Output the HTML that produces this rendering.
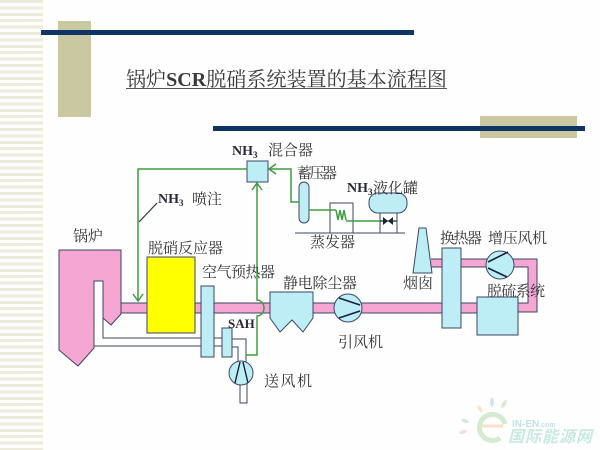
<!DOCTYPE html>
<html><head><meta charset="utf-8">
<style>
html,body{margin:0;padding:0;background:#fefefe;}
#wrap{position:relative;width:600px;height:450px;overflow:hidden;background:#fefefe;}
#stripes{position:absolute;left:0;top:0;width:43px;height:450px;
background:repeating-linear-gradient(to bottom,#ecebdc 0px,#ecebdc 3px,#fdfdfb 3px,#fdfdfb 6.4px);}
svg{position:absolute;left:0;top:0;}
.lbl{font-family:"Liberation Serif","Noto Serif CJK SC",serif;font-size:15px;fill:#333;}
.nh{font-family:"Liberation Serif","Noto Serif CJK SC",serif;font-weight:bold;fill:#2a2a3a;}
</style></head>
<body><div id="wrap">
<div id="stripes"></div>
<svg width="600" height="450" viewBox="0 0 600 450" xmlns="http://www.w3.org/2000/svg">
<!-- decorative bars -->
<rect x="58" y="21" width="33" height="96" fill="#c9c8a0"/>
<rect x="41" y="30" width="373" height="5" fill="#0e3566"/>
<rect x="480" y="116" width="97" height="22" fill="#c9c8a0"/>
<rect x="213" y="126" width="372" height="5" fill="#0e3566"/>

<!-- title -->
<text x="126" y="86" font-family="'Liberation Serif','Noto Serif CJK SC',serif" font-size="20" fill="#3a3a3a" textLength="321" lengthAdjust="spacingAndGlyphs">锅炉<tspan font-weight="bold">SCR</tspan>脱硝系统装置的基本流程图</text>
<line x1="126" y1="88.5" x2="447" y2="88.5" stroke="#555" stroke-width="1"/>

<!-- main pink duct -->
<rect x="121" y="303" width="356" height="10" fill="#f5a6d3"/>
<line x1="121" y1="303" x2="477" y2="303" stroke="#3b4766" stroke-width="1"/>
<line x1="121" y1="313" x2="477" y2="313" stroke="#3b4766" stroke-width="1"/>
<!-- upper U duct -->
<path d="M431,259 L537,259 L537,312 L518,312 L518,303 L528,303 L528,267 L431,267 Z" fill="#f5a6d3"/>
<path d="M431,259 L537,259 L537,312 L518,312" fill="none" stroke="#3b4766" stroke-width="1"/>
<path d="M431,267 L528,267 L528,303 L518,303" fill="none" stroke="#3b4766" stroke-width="1"/>

<!-- boiler -->
<path d="M59,250 L121,250 L121,314 L111,325 L103,318 L103,281 L94,281 L94,348 L78,366 L59,350 Z" fill="#f5a6d3" stroke="#3b4766" stroke-width="1"/>
<!-- air ducts -->
<path d="M103,318 L103,338 L201,338" fill="none" stroke="#3b4766" stroke-width="1"/>
<path d="M94,346 L201,346" fill="none" stroke="#3b4766" stroke-width="1"/>
<line x1="214" y1="338" x2="222" y2="338" stroke="#3b4766" stroke-width="1"/>
<line x1="214" y1="346" x2="222" y2="346" stroke="#3b4766" stroke-width="1"/>
<path d="M232,339 L246,339 L246,363" fill="none" stroke="#3b4766" stroke-width="1"/>
<path d="M232,347 L238,347 L238,363" fill="none" stroke="#3b4766" stroke-width="1"/>
<rect x="240" y="383" width="7" height="20" fill="#fefefe" stroke="#3b4766" stroke-width="1"/>

<!-- reactor -->
<rect x="147" y="257" width="48" height="76" fill="#ffff00" stroke="#3b4766" stroke-width="1"/>
<!-- air preheater -->
<rect x="201" y="286" width="13" height="71" fill="#bdeef5" stroke="#3b4766" stroke-width="1"/>
<!-- SAH -->
<rect x="222" y="328" width="10" height="29" fill="#bdeef5" stroke="#3b4766" stroke-width="1"/>
<!-- ESP -->
<path d="M270,292 L313,292 L313,318 L303,332 L292,320 L280,332 L270,318 Z" fill="#bdeef5" stroke="#3b4766" stroke-width="1"/>
<!-- induced fan -->
<circle cx="348" cy="308" r="14" fill="#bdeef5" stroke="#3b4766" stroke-width="1"/>
<line x1="339" y1="298" x2="360" y2="305" stroke="#1a2238" stroke-width="1.6"/>
<line x1="339" y1="318" x2="360" y2="311" stroke="#1a2238" stroke-width="1.6"/>
<!-- forced draft fan -->
<circle cx="241" cy="373" r="12" fill="#bdeef5" stroke="#3b4766" stroke-width="1"/>
<line x1="235" y1="383" x2="240" y2="362" stroke="#1a2238" stroke-width="1.4"/>
<line x1="243" y1="362" x2="248" y2="383" stroke="#1a2238" stroke-width="1.4"/>
<!-- chimney -->
<path d="M419,228 L426,228 L432,273 L413,273 Z" fill="#bdeef5" stroke="#3b4766" stroke-width="1"/>
<!-- heat exchanger -->
<rect x="442" y="248" width="19" height="80" fill="#bdeef5" stroke="#3b4766" stroke-width="1"/>
<!-- booster fan -->
<circle cx="500" cy="265" r="14" fill="#bdeef5" stroke="#3b4766" stroke-width="1"/>
<line x1="488" y1="262" x2="508" y2="252" stroke="#1a2238" stroke-width="1.6"/>
<line x1="488" y1="268" x2="507" y2="277" stroke="#1a2238" stroke-width="1.6"/>
<!-- desulfurization -->
<rect x="477" y="297" width="41" height="38" fill="#bdeef5" stroke="#3b4766" stroke-width="1"/>

<!-- NH3 system -->
<line x1="295" y1="233" x2="405" y2="233" stroke="#3b4766" stroke-width="1"/>
<rect x="330" y="203" width="23" height="30" fill="#fefefe" stroke="#3b4766" stroke-width="1"/>
<line x1="380" y1="213" x2="380" y2="233" stroke="#3b4766" stroke-width="1"/>
<line x1="397" y1="213" x2="397" y2="233" stroke="#3b4766" stroke-width="1"/>
<rect x="369" y="193" width="38" height="20" rx="9" fill="#bdeef5" stroke="#3b4766" stroke-width="1"/>
<rect x="299" y="182" width="10" height="41" rx="5" fill="#bdeef5" stroke="#3b4766" stroke-width="1"/>
<rect x="247" y="161" width="21" height="21" fill="#bdeef5" stroke="#3b4766" stroke-width="1"/>

<!-- green lines -->
<g fill="none" stroke="#3e9e3e" stroke-width="1.5">
<path d="M247,169 L138,169 L138,301"/>
<path d="M133,294 L138,301 L143,294"/>
<path d="M246,355 L257,355 L257,316 A7,8 0 0 0 257,300 L257,184"/>
<path d="M252,190 L257,183 L262,190"/>
<path d="M299,202 L291,202 L291,169 L270,169"/>
<path d="M276,164 L269,169 L276,174"/>
<path d="M309,210 L336,210"/>
<path d="M336,210 L338,220 L340,210 L342,220 L344,210 L346,220"/>
<path d="M346,221 L380,221"/>
</g>
<line x1="380" y1="221" x2="397" y2="221" stroke="#1a3a2a" stroke-width="1.2"/>
<path d="M383,217 L383,225 L388,221 Z M393,217 L393,225 L388,221 Z" fill="#1a2238"/>

<!-- leader line for NH3 喷注 -->
<line x1="157" y1="203" x2="139" y2="222" stroke="#2a3350" stroke-width="1.2"/>

<!-- labels -->
<text class="lbl" x="73" y="241" textLength="30">锅炉</text>
<text class="lbl" x="148" y="253" textLength="75">脱硝反应器</text>
<text class="lbl" x="202" y="277" textLength="73">空气预热器</text>
<text class="lbl" x="283" y="288" textLength="74">静电除尘器</text>
<text class="lbl" x="338" y="347" textLength="45">引风机</text>
<text class="lbl" x="264" y="386" font-size="16" textLength="48">送风机</text>
<text class="lbl" x="403" y="288" textLength="30">烟囱</text>
<text class="lbl" x="440" y="243" textLength="42">换热器</text>
<text class="lbl" x="488" y="243" textLength="59">增压风机</text>
<text class="lbl" x="487" y="296" textLength="58">脱硫系统</text>
<text class="lbl" x="297" y="178" textLength="40">蓄压器</text>
<text class="lbl" x="310" y="247" textLength="45">蒸发器</text>
<text class="nh" x="232" y="155" font-size="14">NH<tspan font-size="9" dy="3">3</tspan></text>
<text class="lbl" x="268" y="155" font-size="14">混合器</text>
<text class="nh" x="347" y="192" font-size="14">NH<tspan font-size="9" dy="3">3</tspan></text>
<text class="lbl" x="373" y="193" font-size="15.5">液化罐</text>
<text class="nh" x="158" y="203" font-size="14">NH<tspan font-size="9" dy="3">3</tspan></text>
<text class="lbl" x="192" y="204" font-size="14">喷注</text>
<text class="nh" x="228" y="328" font-size="13">SAH</text>

<!-- watermark logo -->
<g opacity="0.38">
<ellipse cx="465" cy="421" rx="4" ry="1.8" transform="rotate(20 465 421)" fill="#8fd0a0"/>
<ellipse cx="463" cy="432" rx="4" ry="1.8" transform="rotate(-20 463 432)" fill="#f2a0b0"/>
<ellipse cx="480" cy="409" rx="1.8" ry="4" transform="rotate(-30 480 409)" fill="#f5c080"/>
<ellipse cx="492" cy="402" rx="1.8" ry="4.5" fill="#80b8e8"/>
<ellipse cx="504" cy="404" rx="1.8" ry="4.5" transform="rotate(30 504 404)" fill="#90d070"/>
<path d="M505,424 A13,13 0 1 0 500,438" fill="none" stroke="#8fd080" stroke-width="5"/>
<path d="M482,426 L503,426" stroke="#f5b070" stroke-width="3"/>
<text x="512" y="427" font-family="'Liberation Sans',sans-serif" font-size="10" font-weight="bold" fill="#5fb8c0">IN-EN<tspan font-size="7">.com</tspan></text>
<text x="508" y="442" font-family="'Liberation Sans','Noto Sans CJK SC',sans-serif" font-size="16" font-weight="bold" font-style="italic" fill="#70c8b0" textLength="84">国际能源网</text>
</g>
</svg>
</div></body></html>
